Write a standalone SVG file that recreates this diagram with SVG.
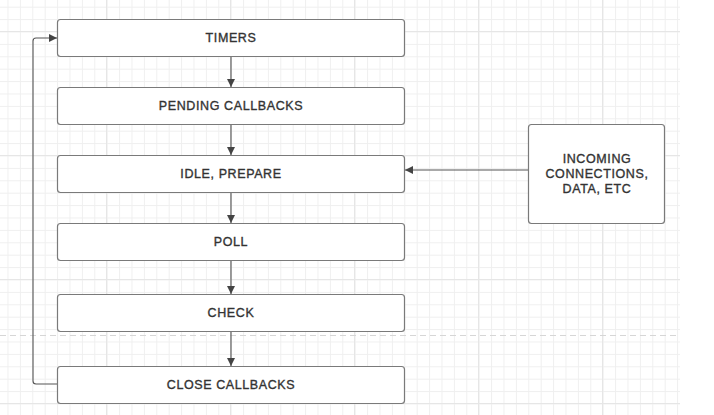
<svg xmlns="http://www.w3.org/2000/svg" width="714" height="415" viewBox="0 0 714 415">
<defs>
<pattern id="minor" x="7.5" y="6.7" width="12.4" height="12.4" patternUnits="userSpaceOnUse">
<path d="M0 0.5H12.4M0.5 0V12.4" fill="none" stroke="#efefef" stroke-width="1"/>
</pattern>
<marker id="ah" viewBox="0 0 10 10" refX="10" refY="5" markerWidth="8" markerHeight="8" markerUnits="userSpaceOnUse" orient="auto">
<path d="M0 0L10 5L0 10Z" fill="#444"/>
</marker>
<style>
.box{fill:#fff;stroke:#7a7a7a;stroke-width:1.2}
.lbl{font-family:"Liberation Sans",Arial,sans-serif;font-size:12.5px;fill:#333;stroke:#333;stroke-width:0.35;text-anchor:middle;dominant-baseline:central;letter-spacing:0.6px}
.edge{fill:none;stroke:#555;stroke-width:1.1;marker-end:url(#ah)}
</style>
</defs>
<rect width="714" height="415" fill="#fff"/>
<rect x="0" y="0" width="680" height="415" fill="url(#minor)"/>
<g stroke="#e6e6e6" stroke-width="1">
<path d="M106.5 0V415M230.5 0V415M354.5 0V415M478.5 0V415M602.5 0V415"/>
<path d="M0 31.5H680M0 155.5H680M0 279.5H680M0 403.5H680"/>
</g>
<path d="M0 335.5H680" stroke="#d6d6d6" stroke-width="1.2" stroke-dasharray="6 4"/>
<g id="connectors">
<path class="edge" d="M231 56V87"/>
<path class="edge" d="M231 124V155"/>
<path class="edge" d="M231 193V223"/>
<path class="edge" d="M231 261V294"/>
<path class="edge" d="M231 332V366"/>
<path class="edge" d="M528 170H405"/>
<path class="edge" d="M57 384H36Q33 384 33 381V41Q33 38 36 38H57"/>
</g>
<g id="timers"><rect class="box" x="57.5" y="19.5" width="347" height="37" rx="3"/><text class="lbl" x="231" y="38">TIMERS</text></g>
<g id="pending"><rect class="box" x="57.5" y="87.5" width="347" height="37" rx="3"/><text class="lbl" x="231" y="106">PENDING CALLBACKS</text></g>
<g id="idle"><rect class="box" x="57.5" y="155.5" width="347" height="37" rx="3"/><text class="lbl" x="231" y="174">IDLE, PREPARE</text></g>
<g id="poll"><rect class="box" x="57.5" y="223.5" width="347" height="37" rx="3"/><text class="lbl" x="231" y="242">POLL</text></g>
<g id="check"><rect class="box" x="57.5" y="294.5" width="347" height="37" rx="3"/><text class="lbl" x="231" y="313">CHECK</text></g>
<g id="close"><rect class="box" x="57.5" y="366.5" width="347" height="37" rx="3"/><text class="lbl" x="231" y="385">CLOSE CALLBACKS</text></g>
<g id="incoming"><rect class="box" x="528.5" y="124.5" width="136" height="99" rx="3"/>
<text class="lbl" x="597" y="159">INCOMING</text>
<text class="lbl" x="597" y="174">CONNECTIONS,</text>
<text class="lbl" x="597" y="189">DATA, ETC</text></g>
</svg>
